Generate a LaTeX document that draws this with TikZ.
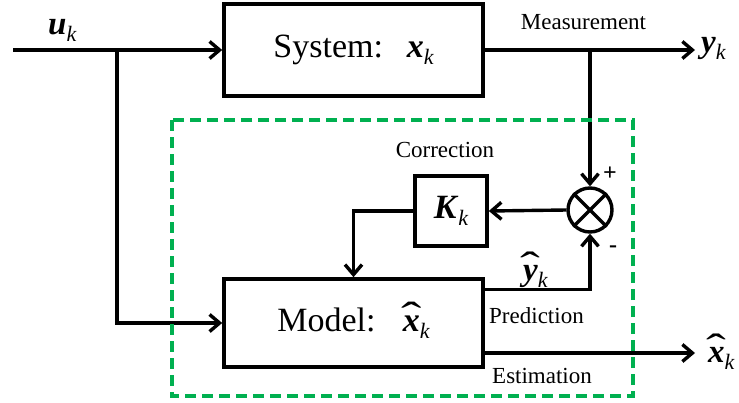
\documentclass[tikz,border=0pt]{standalone}
\usepackage{fontspec}
\setmainfont{Liberation Serif}
\usepackage{graphicx}
\usetikzlibrary{arrows.meta,calc}
\definecolor{dgreen}{HTML}{00B050}
\newcommand{\bv}[1]{\textbf{\textit{#1}}}
\newcommand{\sk}{\raisebox{-0.22em}{\fontsize{22}{22}\selectfont\itshape k}}
\newcommand{\bhat}[1]{\ooalign{\bv{#1}\cr\hidewidth\raisebox{0.02em}{\scalebox{1.8}[1.2]{\char"02C6}}\hidewidth\cr}}
\tikzset{
  blk/.style={draw, line width=3.6pt, inner sep=0pt, font=\fontsize{34}{40}\selectfont},
  conn/.style={line width=3.4pt},
  arr/.style={-{Straight Barb[length=10pt,width=17pt]}},
  lbl/.style={inner sep=0pt, font=\fontsize{23}{26}\selectfont},
  sym/.style={inner sep=0pt, font=\fontsize{33}{36}\selectfont},
  pm/.style={inner sep=0pt, font=\fontsize{24}{26}\selectfont\bfseries},
  grp/.style={draw=dgreen, line width=3.2pt, dash pattern=on 11pt off 6pt}
}
\begin{document}
\begin{tikzpicture}[x=1pt,y=-1pt]
\useasboundingbox (0,0) rectangle (739,402);
% blocks
\node[blk, minimum width=259pt, minimum height=92pt] (sys) at (353.5,50) {System:\hspace{0.7em}\bv{x}\sk};
\node[blk, minimum width=259pt, minimum height=88pt] (mod) at (353.5,323) {Model:\hspace{0.8em}\bhat{x}\sk};
\node[blk, minimum width=72pt, minimum height=70pt] (K) at (451,211) {\bv{K}\sk};
\node[draw, circle, line width=3.4pt, minimum size=44pt, inner sep=0pt] (sum) at (590,210) {};
\draw[line width=3.2pt] (sum.north west) -- (sum.south east) (sum.north east) -- (sum.south west);
% coordinates
\coordinate (uin) at (13,50);
\coordinate (ubr) at (117,50);
\coordinate (yout) at (695,50);
\coordinate (pr) at ($(mod.north east)+(0,12)$);
\coordinate (xout) at (695,353);
% connectors
\draw[conn, arr] (uin) -- (sys.west);
\draw[conn, arr] (ubr) |- (mod.west);
\draw[conn, arr] (sys.east) -- (yout);
\draw[conn, arr] (sum.north |- sys.east) -- (sum.north);
\draw[conn, arr] (sum.west) -- (K.east);
\draw[conn, arr] (K.west) -| (mod.north);
\draw[conn, arr] (pr) -| (sum.south);
\draw[conn, arr] (mod.east |- xout) -- (xout);
% group
\draw[grp] (172,120) rectangle (633,396);
% labels
\node[lbl, anchor=base] (meas) at (583.5,29) {Measurement};
\node[lbl, anchor=base] (corr) at (445,157) {Correction};
\node[lbl, anchor=base west] (pred) at (489,323) {Prediction};
\node[lbl, anchor=base west] (est) at (492,383) {Estimation};
\node[sym, anchor=base west] (ulab) at (48,34) {\bv{u}\sk};
\node[sym, anchor=base west] (ylab) at (701,52) {\bv{y}\sk};
\node[sym, anchor=base west] (xlab) at (708,362) {\bhat{x}\sk};
\node[sym, anchor=base west] (yhl) at (523,280) {\bhat{y}\sk};
\node[pm] (plus) at (610,174) {+};
\node[pm] (minus) at (613,249) {-};
\end{tikzpicture}
\end{document}
